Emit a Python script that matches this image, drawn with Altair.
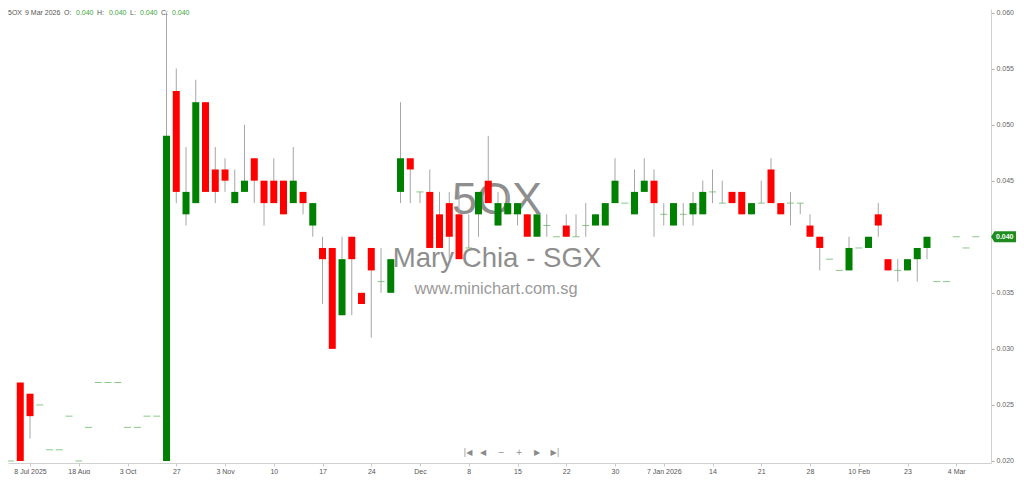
import altair as alt
import pandas as pd

# ---- data ----
opens = [0.020, 0.027, 0.026, 0.025, 0.021, 0.021, 0.024, 0.020, 0.023, 0.027,
         0.027, 0.027, 0.023, 0.023, 0.024, 0.024, 0.020, 0.053, 0.042, 0.043,
         0.052, 0.046, 0.046, 0.043, 0.044, 0.047, 0.045, 0.045, 0.045, 0.043,
         0.044, 0.041, 0.039, 0.039, 0.033, 0.040, 0.035, 0.039, 0.036, 0.035,
         0.044, 0.047, 0.044, 0.044, 0.042, 0.043, 0.042, 0.039, 0.042, 0.045,
         0.041, 0.042, 0.042, 0.042, 0.040, 0.041, 0.040, 0.041, 0.040, 0.041,
         0.041, 0.041, 0.043, 0.043, 0.042, 0.044, 0.045, 0.042, 0.041, 0.042,
         0.042, 0.042, 0.044, 0.043, 0.044, 0.044, 0.042, 0.043, 0.046, 0.043,
         0.043, 0.043, 0.041, 0.040, 0.038, 0.037, 0.037, 0.039, 0.039, 0.042,
         0.038, 0.037, 0.037, 0.038, 0.039, 0.036, 0.036, 0.040, 0.039, 0.040]
highs = [0.020, 0.027, 0.026, 0.025, 0.021, 0.021, 0.024, 0.020, 0.023, 0.027,
         0.027, 0.027, 0.023, 0.023, 0.024, 0.024, 0.060, 0.055, 0.048, 0.054,
         0.052, 0.048, 0.047, 0.046, 0.050, 0.047, 0.045, 0.047, 0.045, 0.048,
         0.044, 0.043, 0.040, 0.039, 0.040, 0.040, 0.035, 0.039, 0.039, 0.038,
         0.052, 0.047, 0.044, 0.046, 0.044, 0.044, 0.044, 0.042, 0.044, 0.049,
         0.044, 0.044, 0.043, 0.042, 0.042, 0.042, 0.040, 0.042, 0.042, 0.043,
         0.042, 0.043, 0.047, 0.043, 0.046, 0.047, 0.046, 0.043, 0.043, 0.043,
         0.044, 0.045, 0.046, 0.045, 0.044, 0.044, 0.043, 0.045, 0.047, 0.043,
         0.044, 0.043, 0.042, 0.040, 0.038, 0.037, 0.040, 0.039, 0.040, 0.043,
         0.038, 0.038, 0.038, 0.039, 0.040, 0.036, 0.036, 0.040, 0.039, 0.040]
lows = [0.020, 0.020, 0.022, 0.025, 0.021, 0.021, 0.024, 0.020, 0.023, 0.027,
        0.027, 0.027, 0.023, 0.023, 0.024, 0.024, 0.020, 0.043, 0.041, 0.043,
        0.044, 0.043, 0.044, 0.043, 0.044, 0.043, 0.041, 0.043, 0.042, 0.043,
        0.042, 0.040, 0.034, 0.030, 0.033, 0.033, 0.034, 0.031, 0.035, 0.035,
        0.043, 0.043, 0.043, 0.039, 0.039, 0.038, 0.038, 0.039, 0.040, 0.043,
        0.041, 0.042, 0.041, 0.040, 0.040, 0.040, 0.040, 0.040, 0.040, 0.040,
        0.041, 0.041, 0.043, 0.043, 0.042, 0.044, 0.040, 0.041, 0.041, 0.041,
        0.041, 0.042, 0.043, 0.043, 0.043, 0.042, 0.042, 0.043, 0.043, 0.042,
        0.041, 0.042, 0.040, 0.037, 0.038, 0.037, 0.037, 0.039, 0.039, 0.040,
        0.037, 0.036, 0.037, 0.036, 0.038, 0.036, 0.036, 0.040, 0.039, 0.040]
closes = [0.020, 0.020, 0.024, 0.025, 0.021, 0.021, 0.024, 0.020, 0.023, 0.027,
          0.027, 0.027, 0.023, 0.023, 0.024, 0.024, 0.049, 0.044, 0.044, 0.052,
          0.044, 0.044, 0.045, 0.044, 0.045, 0.045, 0.043, 0.043, 0.042, 0.045,
          0.043, 0.043, 0.038, 0.030, 0.038, 0.038, 0.034, 0.037, 0.036, 0.038,
          0.047, 0.046, 0.044, 0.039, 0.039, 0.040, 0.038, 0.039, 0.044, 0.043,
          0.043, 0.043, 0.043, 0.040, 0.042, 0.041, 0.040, 0.040, 0.040, 0.041,
          0.042, 0.043, 0.045, 0.043, 0.044, 0.045, 0.043, 0.042, 0.043, 0.042,
          0.043, 0.044, 0.044, 0.043, 0.043, 0.042, 0.043, 0.043, 0.043, 0.042,
          0.043, 0.043, 0.040, 0.039, 0.038, 0.037, 0.039, 0.039, 0.040, 0.041,
          0.037, 0.037, 0.038, 0.039, 0.040, 0.036, 0.036, 0.040, 0.039, 0.040]

tick_idx = [2, 7, 12, 17, 22, 27, 32, 37, 42, 47, 52, 57, 62, 67, 72, 77, 82, 87, 92, 97]
tick_labels = ["8 Jul 2025", "18 Aug", "3 Oct", "27", "3 Nov", "10", "17", "24", "Dec",
               "8", "15", "22", "30", "7 Jan 2026", "14", "21", "28", "10 Feb", "23", "4 Mar"]
y_ticks = [0.020, 0.025, 0.030, 0.035, 0.040, 0.045, 0.050, 0.055, 0.060]

symbol = "5OX"
last_date = "9 Mar 2026"

# ---- table ----
n = len(opens)
df = pd.DataFrame({"idx": list(range(n)), "o": opens, "h": highs, "l": lows, "c": closes})
df["lo"] = df[["o", "c"]].min(axis=1)
df["hi"] = df[["o", "c"]].max(axis=1)
df["dir"] = ["up" if c > o else ("down" if c < o else "flat") for o, c in zip(opens, closes)]

W, H = 983, 454
FONT = "Liberation Sans"

labels_js = "[" + ",".join("'" + t + "'" for t in tick_labels) + "]"
ticks_js = "[" + ",".join(str(t) for t in tick_idx) + "]"

xenc = alt.X("idx:Q", title=None,
             scale=alt.Scale(domain=[0.2538, 100.051], nice=False, zero=False),
             axis=alt.Axis(values=tick_idx, labelExpr=f"{labels_js}[indexof({ticks_js}, datum.value)]",
                           grid=False, domainColor="#d0d0d0", tickColor="#c8c8c8", tickSize=3,
                           labelFontSize=7, labelColor="#555555", labelPadding=1,
                           labelFont=FONT, labelFlush=False))
yscale = alt.Scale(domain=[0.0198216, 0.0603122], nice=False, zero=False)
yaxis = alt.Axis(orient="right", values=y_ticks, format=".3f", grid=False,
                 domainColor="#d0d0d0", tickColor="#aaaaaa", tickSize=3,
                 labelFontSize=7, labelColor="#666666", labelPadding=2, labelFont=FONT)

base = alt.Chart(df)

wicks = base.mark_rule(color="#a6a6a6", strokeWidth=1, clip=True).encode(
    x=xenc,
    y=alt.Y("l:Q", scale=yscale, axis=yaxis, title=None),
    y2="h:Q",
)

bodies = base.transform_filter("datum.dir != 'flat'").mark_bar(size=7, clip=True).encode(
    x="idx:Q",
    y="lo:Q",
    y2="hi:Q",
    color=alt.Color("dir:N", scale=alt.Scale(domain=["up", "down"], range=["#008000", "#ff0000"]),
                    legend=None),
)

flats = base.transform_filter("datum.dir == 'flat'").mark_tick(
    orient="horizontal", size=7, thickness=1, color="#55b055", clip=True).encode(
    x="idx:Q",
    y="c:Q",
)

# watermark
wm1 = alt.Chart(pd.DataFrame({"t": [symbol]})).mark_text(
    fontSize=45, font=FONT, color="#8e8e8e", align="center", baseline="alphabetic").encode(
    x=alt.value(489), y=alt.value(205), text="t:N")
wm2 = alt.Chart(pd.DataFrame({"t": ["Mary Chia - SGX"]})).mark_text(
    fontSize=27.6, font=FONT, color="#8e8e8e", align="center", baseline="alphabetic").encode(
    x=alt.value(489), y=alt.value(258), text="t:N")
wm3 = alt.Chart(pd.DataFrame({"t": ["www.minichart.com.sg"]})).mark_text(
    fontSize=16.4, font=FONT, color="#9a9a9a", align="center", baseline="alphabetic").encode(
    x=alt.value(488), y=alt.value(285), text="t:N")

# header
hdr_items = [
    (symbol, 0, "#555555"), (last_date, 17, "#555555"),
    ("O:", 56, "#555555"), ("%.3f" % opens[-1], 68, "#3aa53a"),
    ("H:", 89, "#555555"), ("%.3f" % highs[-1], 101, "#3aa53a"),
    ("L:", 122, "#555555"), ("%.3f" % lows[-1], 132, "#3aa53a"),
    ("C:", 153, "#555555"), ("%.3f" % closes[-1], 164, "#3aa53a"),
]
hdr_layers = []
for txt, xp, col in hdr_items:
    hdr_layers.append(
        alt.Chart(pd.DataFrame({"t": [txt]})).mark_text(
            fontSize=7, font=FONT, color=col, align="left", baseline="middle").encode(
            x=alt.value(xp), y=alt.value(4), text="t:N"))

# navigation icons
nav_items = [("|◀", 460), ("◀", 475), ("−", 493), ("+", 511), ("▶", 529), ("▶|", 547)]
nav_layers = []
for txt, xp in nav_items:
    nav_layers.append(
        alt.Chart(pd.DataFrame({"t": [txt]})).mark_text(
            fontSize=8, font="DejaVu Sans", color="#8a8a8a", align="center", baseline="middle").encode(
            x=alt.value(xp), y=alt.value(444), text="t:N"))

# last price callout
last = base.transform_filter(f"datum.idx == {n - 1}")
callout = last.mark_point(
    shape="M -1 0 L -0.72 -0.44 L 1 -0.44 L 1 0.44 L -0.72 0.44 Z",
    filled=True, size=625, color="#1e8c1e", opacity=1).encode(
    x=alt.value(995.5), y="c:Q")
callout_txt = last.mark_text(fontSize=7, font=FONT, color="white", align="left",
                             baseline="middle", fontWeight="bold").encode(
    x=alt.value(988), y="c:Q", text=alt.Text("c:Q", format=".3f"))

layers = [wm1, wm2, wm3, wicks, bodies, flats, callout, callout_txt] + hdr_layers + nav_layers
chart = alt.layer(*layers).properties(width=W, height=H, padding=0).configure(
    font=FONT, background="white").configure_view(stroke=None)

chart.save("out.html", embed_options={"renderer": "svg", "actions": False})
